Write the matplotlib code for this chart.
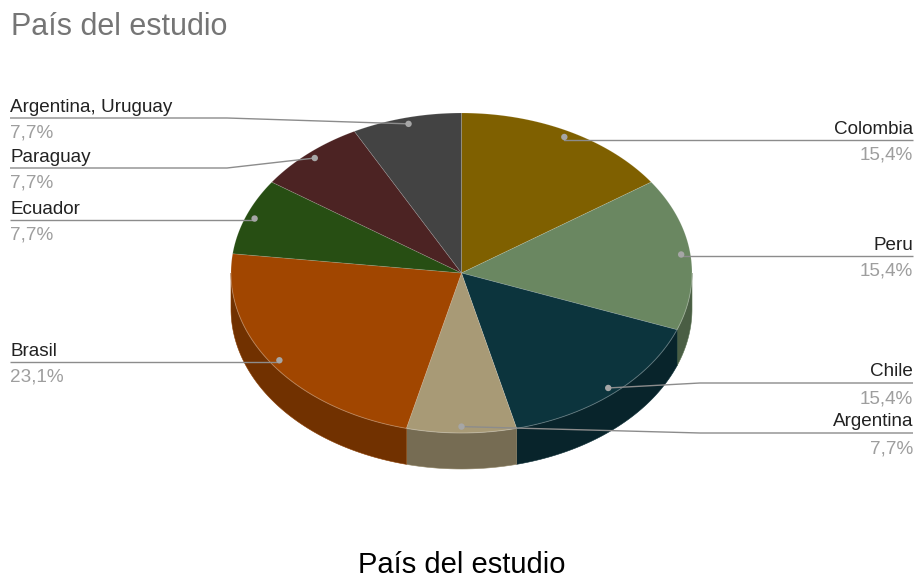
import numpy as np
import matplotlib
matplotlib.use("Agg")
import matplotlib.pyplot as plt
from matplotlib.patches import Polygon, Circle
from matplotlib.colors import to_rgb

# --- data -------------------------------------------------------------
labels = ["Colombia", "Peru", "Chile", "Argentina", "Brasil",
          "Ecuador", "Paraguay", "Argentina, Uruguay"]
counts = [2, 2, 2, 1, 3, 1, 1, 1]
colors = ["#7f6000", "#6a8761", "#0c343d", "#a89a76", "#a14600",
          "#274e13", "#4c2323", "#434343"]
title = "País del estudio"

# --- layout -----------------------------------------------------------
W, H = 917, 579
cx, cy = 461.5, 273.0      # centre of top face
rx, ry = 230.5, 160.0      # radii of top ellipse
depth = 36.0               # thickness of the disc
dot_r = 0.96               # where the leader dot sits (fraction of radius)

# label anchor: (side, leader y, elbow x)
label_layout = {
    "Colombia":           ("right", 140, None),
    "Peru":               ("right", 256, None),
    "Chile":              ("right", 383, 700),
    "Argentina":          ("right", 433, 700),
    "Brasil":             ("left", 362, None),
    "Ecuador":            ("left", 220, None),
    "Paraguay":           ("left", 168, 227),
    "Argentina, Uruguay": ("left", 118, 227),
}
left_x, right_x = 10, 913

plt.rcParams["font.family"] = ["Liberation Sans", "DejaVu Sans"]

fig = plt.figure(figsize=(W / 100, H / 100), dpi=100)
ax = fig.add_axes([0, 0, 1, 1])
ax.set_xlim(0, W)
ax.set_ylim(H, 0)
ax.axis("off")


def ell(theta, r=1.0):
    t = np.radians(theta)
    return cx + r * rx * np.sin(t), cy - r * ry * np.cos(t)


def darker(c, f=0.7):
    return tuple(v * f for v in to_rgb(c))


total = sum(counts)
bounds = np.concatenate([[0], np.cumsum(counts)]) / total * 360.0

# side walls (front half only)
for i, col in enumerate(colors):
    a, b = bounds[i], bounds[i + 1]
    lo, hi = max(a, 90.0), min(b, 270.0)
    if lo >= hi:
        continue
    ts = np.linspace(lo, hi, 80)
    xs, ys = ell(ts)
    pts = np.column_stack([np.concatenate([xs, xs[::-1]]),
                           np.concatenate([ys, ys[::-1] + depth])])
    ax.add_patch(Polygon(pts, closed=True, facecolor=darker(col),
                         edgecolor=darker(col, 0.85), lw=0.4, zorder=1))

# top faces
for i, col in enumerate(colors):
    a, b = bounds[i], bounds[i + 1]
    ts = np.linspace(a, b, 120)
    xs, ys = ell(ts)
    pts = np.column_stack([np.concatenate([[cx], xs]),
                           np.concatenate([[cy], ys])])
    ax.add_patch(Polygon(pts, closed=True, facecolor=col,
                         edgecolor=(1, 1, 1, 0.15), lw=0.6, zorder=2))

# faint highlight along the front rim
ts = np.linspace(90, 270, 200)
xs, ys = ell(ts)
ax.plot(xs, ys, color=(1, 1, 1, 0.15), lw=0.8, zorder=3)

# leader lines, dots and labels
lead_col = "#8c8c8c"
for i, name in enumerate(labels):
    mid = (bounds[i] + bounds[i + 1]) / 2
    dx, dy = ell(mid, dot_r)
    side, ly, elbow = label_layout[name]
    x_end = left_x if side == "left" else right_x
    if elbow is None:
        xs_l, ys_l = [dx, dx, x_end], [dy, ly, ly]
    else:
        xs_l, ys_l = [dx, elbow, x_end], [dy, ly, ly]
    ax.plot(xs_l, ys_l, color=lead_col, lw=1.0, zorder=4,
            solid_capstyle="butt")
    ax.add_patch(Circle((dx, dy), 3.2, facecolor="#a6a6a6",
                        edgecolor="none", zorder=5))

    pct = f"{counts[i] / total * 100:.1f}".replace(".", ",") + "%"
    ha = "left" if side == "left" else "right"
    ax.text(x_end, ly - 6.5, name, ha=ha, va="baseline", fontsize=13.6,
            color="#222222", zorder=6)
    ax.text(x_end, ly + 20, pct, ha=ha, va="baseline", fontsize=13.6,
            color="#9e9e9e", zorder=6)

# titles
ax.text(11, 35, title, ha="left", va="baseline", fontsize=22,
        color="#757575")
ax.text(cx, 573, title, ha="center", va="baseline", fontsize=21,
        color="#000000")

fig.savefig("out.png", dpi=100)
